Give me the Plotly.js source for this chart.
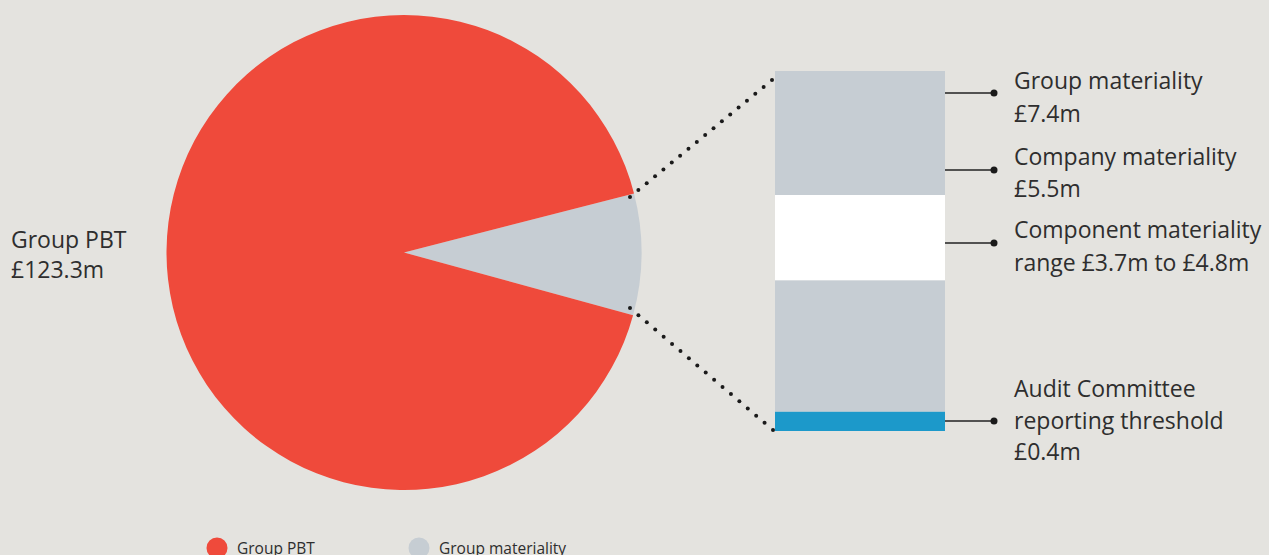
<!DOCTYPE html>
<html>
<head>
<meta charset="utf-8">
<script src="https://cdn.plot.ly/plotly-3.0.1.min.js"></script>
<style>
  html, body { margin: 0; padding: 0; background: #e4e3df; }
  #chart { width: 1269px; height: 555px; }
</style>
</head>
<body>
<div id="chart"></div>
<script>
// ---- data ----
const pieLabels = ['Group materiality', 'Group PBT'];
const pieShares = [8.25, 91.75];            // share of the pie as drawn (%)
const pieValueText = ['£7.4m', '£123.3m'];

const segNames = ['Audit Committee reporting threshold', 'Below component range', 'Component materiality range', 'Group materiality'];
const segBase = [0, 0.4, 3.1, 4.85];
const segTop = [0.4, 3.1, 4.85, 7.4];

const calloutLines = [
  ['Group materiality', '£7.4m'],
  ['Company materiality', '£5.5m'],
  ['Component materiality', 'range £3.7m to £4.8m'],
  ['Audit Committee', 'reporting threshold', '£0.4m']
];
const legendLabels = ['Group PBT', 'Group materiality'];

// ---- styling ----
const W = 1269, H = 555;
const BG = '#e4e3df';
const RED = '#ef4a3b';
const GREY = '#c6cdd3';
const BLUE = '#1c99ca';
const WHITE = '#ffffff';
const TXT = '#2e2e2e';
const FONT = 'Open Sans, sans-serif';
const FS = 23;
const segColors = [BLUE, GREY, WHITE, GREY];

const px = x => x / W;
const py = y => 1 - y / H;

const traces = [];
traces.push({
  type: 'pie',
  labels: pieLabels,
  values: pieShares,
  sort: false,
  rotation: 75.6,
  direction: 'clockwise',
  textinfo: 'none',
  hoverinfo: 'label',
  marker: { colors: [GREY, RED], line: { width: 0 } },
  domain: { x: [px(166.5), px(641.5)], y: [py(490), py(15)] },
  showlegend: false
});

for (let i = 0; i < segBase.length; i++) {
  traces.push({
    type: 'bar',
    x: [0],
    y: [segTop[i] - segBase[i]],
    base: [segBase[i]],
    width: [1],
    name: segNames[i],
    marker: { color: segColors[i], line: { width: 0 } },
    xaxis: 'x', yaxis: 'y',
    showlegend: false,
    hoverinfo: 'name'
  });
}

const shapes = [];
const annotations = [];

// dotted connectors
function dots(x0, y0, x1, y1, n) {
  for (let k = 0; k <= n; k++) {
    const x = x0 + (x1 - x0) * k / n;
    const y = y0 + (y1 - y0) * k / n;
    shapes.push({ type: 'circle', xref: 'paper', yref: 'paper',
      x0: px(x - 2), x1: px(x + 2), y0: py(y + 2), y1: py(y - 2),
      fillcolor: '#1a1a1a', line: { width: 0 } });
  }
}
dots(630, 197, 772, 80, 17);
dots(630, 308, 773, 430, 17);

// callout lines with dots
const calloutY = [93, 170, 243, 421];
const lineCenters = [[80.5, 112.5], [156, 188.5], [229, 262], [387.5, 419.5, 451]];
calloutY.forEach((y, i) => {
  shapes.push({ type: 'line', xref: 'paper', yref: 'paper',
    x0: px(945), x1: px(993), y0: py(y), y1: py(y),
    line: { color: '#222', width: 1.6 } });
  shapes.push({ type: 'circle', xref: 'paper', yref: 'paper',
    x0: px(990.5), x1: px(997.5), y0: py(y + 3.5), y1: py(y - 3.5),
    fillcolor: '#1a1a1a', line: { width: 0 } });
  calloutLines[i].forEach((t, j) => {
    annotations.push({ xref: 'paper', yref: 'paper', x: px(1012), y: py(lineCenters[i][j]),
      xanchor: 'left', yanchor: 'middle', showarrow: false, text: t,
      font: { family: FONT, size: FS, color: TXT } });
  });
});

// left label
annotations.push({ xref: 'paper', yref: 'paper', x: px(9), y: py(238.5), xanchor: 'left', yanchor: 'middle',
  showarrow: false, text: pieLabels[1], font: { family: FONT, size: FS, color: TXT } });
annotations.push({ xref: 'paper', yref: 'paper', x: px(9), y: py(269.5), xanchor: 'left', yanchor: 'middle',
  showarrow: false, text: pieValueText[1], font: { family: FONT, size: FS, color: TXT } });

// manual legend
const legX = [217, 419];
const legColors = [RED, GREY];
legendLabels.forEach((t, i) => {
  shapes.push({ type: 'circle', xref: 'paper', yref: 'paper',
    x0: px(legX[i] - 10.5), x1: px(legX[i] + 10.5), y0: py(548 + 10.5), y1: py(548 - 10.5),
    fillcolor: legColors[i], line: { width: 0 } });
  annotations.push({ xref: 'paper', yref: 'paper', x: px(legX[i] + 18), y: py(548),
    xanchor: 'left', yanchor: 'middle', showarrow: false, text: t,
    font: { family: FONT, size: 15.5, color: TXT } });
});

const layout = {
  width: W, height: H,
  margin: { l: 0, r: 0, t: 0, b: 0 },
  paper_bgcolor: BG, plot_bgcolor: 'rgba(0,0,0,0)',
  showlegend: false,
  barmode: 'overlay',
  xaxis: { domain: [px(775), px(945)], range: [-0.5, 0.5], visible: false, fixedrange: true },
  yaxis: { domain: [py(431), py(71)], range: [0, 7.4], visible: false, fixedrange: true },
  shapes: shapes,
  annotations: annotations
};

Plotly.newPlot('chart', traces, layout, { displayModeBar: false, staticPlot: true });
</script>
</body>
</html>
